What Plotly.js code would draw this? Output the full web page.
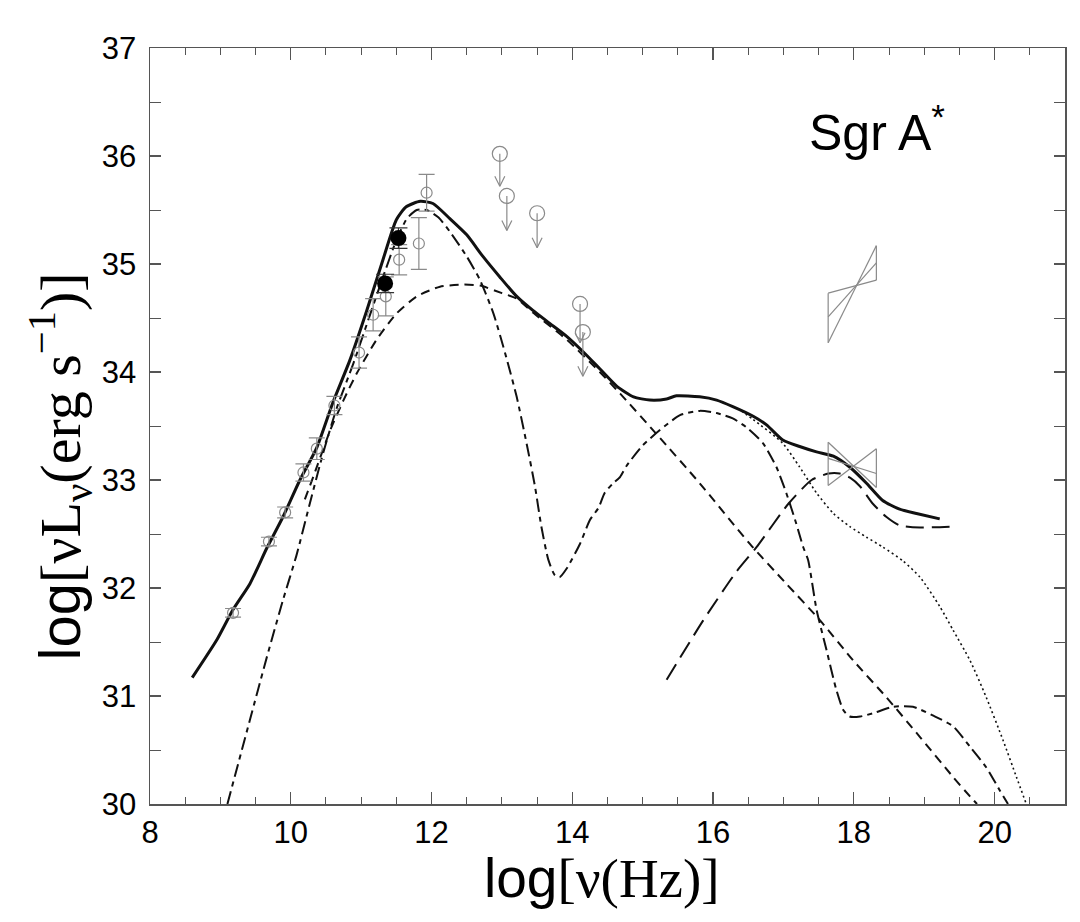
<!DOCTYPE html>
<html>
<head>
<meta charset="utf-8">
<script src="https://cdn.plot.ly/plotly-3.0.1.min.js"></script>
<style>html,body{margin:0;padding:0;background:#fff;}#chart{width:1080px;height:922px;}</style>
</head>
<body>
<div id="chart"></div>
<script>
// ---- Model curves (log nu [Hz], log nuL_nu [erg/s]) ----
const TOTAL_X = [8.60, 8.95, 9.18, 9.42, 9.66, 9.89, 10.13, 10.37, 10.60, 10.84, 11.08, 11.31, 11.50, 11.64, 11.84, 12.02, 12.26, 12.50, 12.73, 12.97, 13.21, 13.44, 13.68, 13.92, 14.15, 14.39, 14.63, 14.87, 15.10, 15.34, 15.48, 15.81, 16.05, 16.28, 16.57, 16.76, 16.99, 17.23, 17.47, 17.71, 17.94, 18.18, 18.41, 18.65, 18.89, 19.22];
const TOTAL_Y = [31.17, 31.52, 31.80, 32.04, 32.37, 32.66, 33.00, 33.30, 33.72, 34.11, 34.57, 35.04, 35.41, 35.53, 35.58, 35.56, 35.42, 35.27, 35.07, 34.88, 34.70, 34.57, 34.45, 34.33, 34.19, 34.03, 33.87, 33.77, 33.74, 33.75, 33.78, 33.77, 33.74, 33.68, 33.59, 33.51, 33.37, 33.31, 33.26, 33.22, 33.12, 32.97, 32.81, 32.73, 32.69, 32.64];

const THERMAL_X = [9.10, 9.42, 9.66, 9.89, 10.08, 10.27, 10.46, 10.65, 10.89, 11.10, 11.30, 11.50, 11.65, 11.79, 11.93, 12.10, 12.26, 12.50, 12.69, 12.88, 13.06, 13.21, 13.35, 13.47, 13.56, 13.66, 13.75, 13.82, 13.92, 14.11, 14.25, 14.37, 14.46, 14.58, 14.68, 14.77, 15.00, 15.24, 15.53, 15.81, 16.05, 16.28, 16.47, 16.71, 16.90, 17.04, 17.18, 17.28, 17.35, 17.47, 17.61, 17.75, 17.85, 17.94, 18.09, 18.27, 18.56, 18.84, 19.12, 19.41, 19.65, 19.88, 20.07, 20.19];
const THERMAL_Y = [30.00, 30.78, 31.36, 31.89, 32.30, 32.78, 33.25, 33.66, 34.08, 34.48, 34.86, 35.22, 35.42, 35.50, 35.50, 35.43, 35.30, 35.07, 34.85, 34.54, 34.14, 33.77, 33.34, 32.94, 32.57, 32.26, 32.12, 32.10, 32.18, 32.41, 32.63, 32.74, 32.88, 32.97, 33.03, 33.13, 33.32, 33.46, 33.60, 33.64, 33.62, 33.57, 33.49, 33.34, 33.12, 32.88, 32.60, 32.38, 32.26, 31.80, 31.43, 31.06, 30.87, 30.81, 30.81, 30.84, 30.90, 30.90, 30.82, 30.72, 30.53, 30.34, 30.13, 30.00];

const NONTHERMAL_X = [10.20, 10.32, 10.56, 10.75, 10.94, 11.22, 11.50, 11.79, 12.12, 12.45, 12.69, 13.00, 13.21, 13.44, 13.92, 14.39, 14.68, 15.19, 15.81, 16.52, 17.04, 17.52, 17.99, 18.46, 18.94, 19.41, 19.65, 19.75];
const NONTHERMAL_Y = [32.82, 33.03, 33.46, 33.74, 33.99, 34.30, 34.54, 34.70, 34.79, 34.81, 34.80, 34.73, 34.68, 34.55, 34.30, 34.00, 33.80, 33.43, 32.97, 32.41, 32.04, 31.70, 31.33, 30.99, 30.62, 30.25, 30.07, 30.00];

const BREMS_X = [15.34, 15.86, 16.33, 16.62, 17.07, 17.40, 17.64, 17.80, 17.95, 18.09, 18.27, 18.46, 18.65, 18.94, 19.42];
const BREMS_Y = [31.15, 31.70, 32.15, 32.38, 32.78, 33.00, 33.06, 33.06, 33.02, 32.94, 32.78, 32.66, 32.58, 32.56, 32.57];

const DOTTED_X = [16.40, 16.57, 16.99, 17.23, 17.47, 17.71, 17.94, 18.18, 18.41, 18.70, 18.94, 19.22, 19.41, 19.65, 19.88, 20.12, 20.31, 20.45];
const DOTTED_Y = [33.64, 33.56, 33.34, 33.12, 32.88, 32.69, 32.57, 32.47, 32.38, 32.25, 32.10, 31.83, 31.61, 31.33, 30.99, 30.59, 30.25, 30.00];

// ---- Observations ----
const OBS_X = [9.18, 9.69, 9.92, 10.18, 10.37, 10.62, 10.97, 11.17, 11.35, 11.54, 11.82, 11.93];
const OBS_Y = [31.77, 32.43, 32.70, 33.07, 33.29, 33.69, 34.18, 34.53, 34.70, 35.04, 35.19, 35.66];
const OBS_ERR = [0.04, 0.04, 0.05, 0.08, 0.10, 0.085, 0.145, 0.15, 0.18, 0.14, 0.24, 0.17];

const FILLED_X = [11.34, 11.53];
const FILLED_Y = [34.82, 35.24];
const FILLED_ERR = [0.085, 0.095];

const UL_X = [12.97, 13.07, 13.50, 14.11, 14.15];
const UL_Y = [36.02, 35.63, 35.47, 34.63, 34.37];
const UL_TIP = [35.72, 35.31, 35.15, 34.27, 33.96];

// X-ray bowties: [x_left, x_right], edges at each end, and best-fit line
const BOW_X = [17.635, 18.32];
const BOW_FLARE_LEFT = [34.27, 34.73];
const BOW_FLARE_RIGHT = [34.85, 35.17];
const BOW_FLARE_MID = [34.51, 35.01];
const BOW_QUIET_LEFT = [32.95, 33.35];
const BOW_QUIET_RIGHT = [32.93, 33.29];
const BOW_QUIET_MID = [33.20, 33.06];

const XTICKS = [8, 10, 12, 14, 16, 18, 20];
const YTICKS = [30, 31, 32, 33, 34, 35, 36, 37];

// ---- build traces ----
const GREY = '#8a8a8a';
function curve(x, y, dash, width, shape) {
  return {x: x, y: y, type: 'scatter', mode: 'lines', hoverinfo: 'skip',
          line: {color: '#111', width: width, dash: dash, shape: shape || 'spline', smoothing: 0.6}};
}
const traces = [];
traces.push(curve(THERMAL_X, THERMAL_Y, '13px,5px,5px,5px', 2));
traces.push(curve(NONTHERMAL_X, NONTHERMAL_Y, '9px,6px', 2));
traces.push(curve(BREMS_X, BREMS_Y, '18px,8px', 2));
traces.push(curve(DOTTED_X, DOTTED_Y, '2px,3px', 1.6));
traces.push(curve(TOTAL_X, TOTAL_Y, 'solid', 3));

// bowties
function bowtie(L, R, M) {
  const xl = BOW_X[0], xr = BOW_X[1];
  return {
    x: [xl, xl, null, xr, xr, null, xl, xr, null, xl, xr, null, xl, xr],
    y: [L[0], L[1], null, R[0], R[1], null, L[0], R[1], null, L[1], R[0], null, M[0], M[1]],
    type: 'scatter', mode: 'lines', hoverinfo: 'skip', line: {color: GREY, width: 1.2}
  };
}
traces.push(bowtie(BOW_FLARE_LEFT, BOW_FLARE_RIGHT, BOW_FLARE_MID));
traces.push(bowtie(BOW_QUIET_LEFT, BOW_QUIET_RIGHT, BOW_QUIET_MID));

// upper-limit arrows
const ax = [], ay = [];
const hx = 0.071, hy = 0.093;
UL_X.forEach((x, i) => {
  ax.push(x, x, null, x - hx, x, x + hx, null);
  ay.push(UL_Y[i], UL_TIP[i], null, UL_TIP[i] + hy, UL_TIP[i], UL_TIP[i] + hy, null);
});
traces.push({x: ax, y: ay, type: 'scatter', mode: 'lines', hoverinfo: 'skip', line: {color: GREY, width: 1.2}});
traces.push({x: UL_X, y: UL_Y, type: 'scatter', mode: 'markers', hoverinfo: 'skip',
  marker: {symbol: 'circle-open', size: 15, color: GREY, line: {width: 1.2, color: GREY}}});

// observed points
traces.push({x: OBS_X, y: OBS_Y, type: 'scatter', mode: 'markers', hoverinfo: 'skip',
  error_y: {type: 'data', array: OBS_ERR, visible: true, color: GREY, thickness: 1.2, width: 8},
  marker: {symbol: 'circle-open', size: 11, color: GREY, line: {width: 1.2, color: GREY}}});
traces.push({x: FILLED_X, y: FILLED_Y, type: 'scatter', mode: 'markers', hoverinfo: 'skip',
  error_y: {type: 'data', array: FILLED_ERR, visible: true, color: '#333', thickness: 1.2, width: 9},
  marker: {symbol: 'circle', size: 16, color: '#000'}});

const AXC = '#555';
const layout = {
  width: 1080, height: 922,
  margin: {l: 150, r: 15, t: 48, b: 118},
  paper_bgcolor: '#fff', plot_bgcolor: '#fff',
  showlegend: false,
  xaxis: {
    range: [8, 21], tickvals: XTICKS, ticktext: XTICKS.map(String),
    ticks: 'inside', ticklen: 12, tickwidth: 1.2, tickcolor: AXC,
    minor: {dtick: 0.5, tick0: 8, ticks: 'inside', ticklen: 7, tickwidth: 1, tickcolor: AXC},
    showline: true, linecolor: AXC, linewidth: 1.5, mirror: 'allticks',
    showgrid: false, zeroline: false,
    tickfont: {family: 'Liberation Sans, Arial, sans-serif', size: 31, color: '#000'}
  },
  yaxis: {
    range: [30, 37], tickvals: YTICKS, ticktext: YTICKS.map(String),
    ticks: 'inside', ticklen: 11, tickwidth: 1.2, tickcolor: AXC,
    minor: {dtick: 0.5, tick0: 30, ticks: 'inside', ticklen: 11, tickwidth: 1, tickcolor: AXC},
    showline: true, linecolor: AXC, linewidth: 1.5, mirror: 'allticks',
    showgrid: false, zeroline: false, ticklabelstandoff: 6,
    tickfont: {family: 'Liberation Sans, Arial, sans-serif', size: 31, color: '#000'}
  },
  annotations: [{
    x: 17.33, y: 36.25, xref: 'x', yref: 'y', xanchor: 'left', yanchor: 'middle',
    text: 'Sgr A<sup>*</sup>', showarrow: false,
    font: {family: 'Liberation Sans, Arial, sans-serif', size: 50, color: '#000'}
  }, {
    x: 0.494, y: -0.098, xref: 'paper', yref: 'paper', xanchor: 'center', yanchor: 'middle',
    showarrow: false,
    text: '<span style="font-family:Liberation Sans">log</span>[ν(Hz)]',
    font: {family: 'Liberation Serif, Times New Roman, serif', size: 55, color: '#000'}
  }, {
    x: -0.098, y: 0.447, xref: 'paper', yref: 'paper', xanchor: 'center', yanchor: 'middle',
    textangle: -90, showarrow: false,
    text: '<span style="font-family:Liberation Sans">log</span>[νL<sub>ν</sub>(erg s<sup>−1</sup>)]',
    font: {family: 'Liberation Serif, Times New Roman, serif', size: 58, color: '#000'}
  }]
};

Plotly.newPlot('chart', traces, layout, {staticPlot: true, displayModeBar: false});
</script>
</body>
</html>
